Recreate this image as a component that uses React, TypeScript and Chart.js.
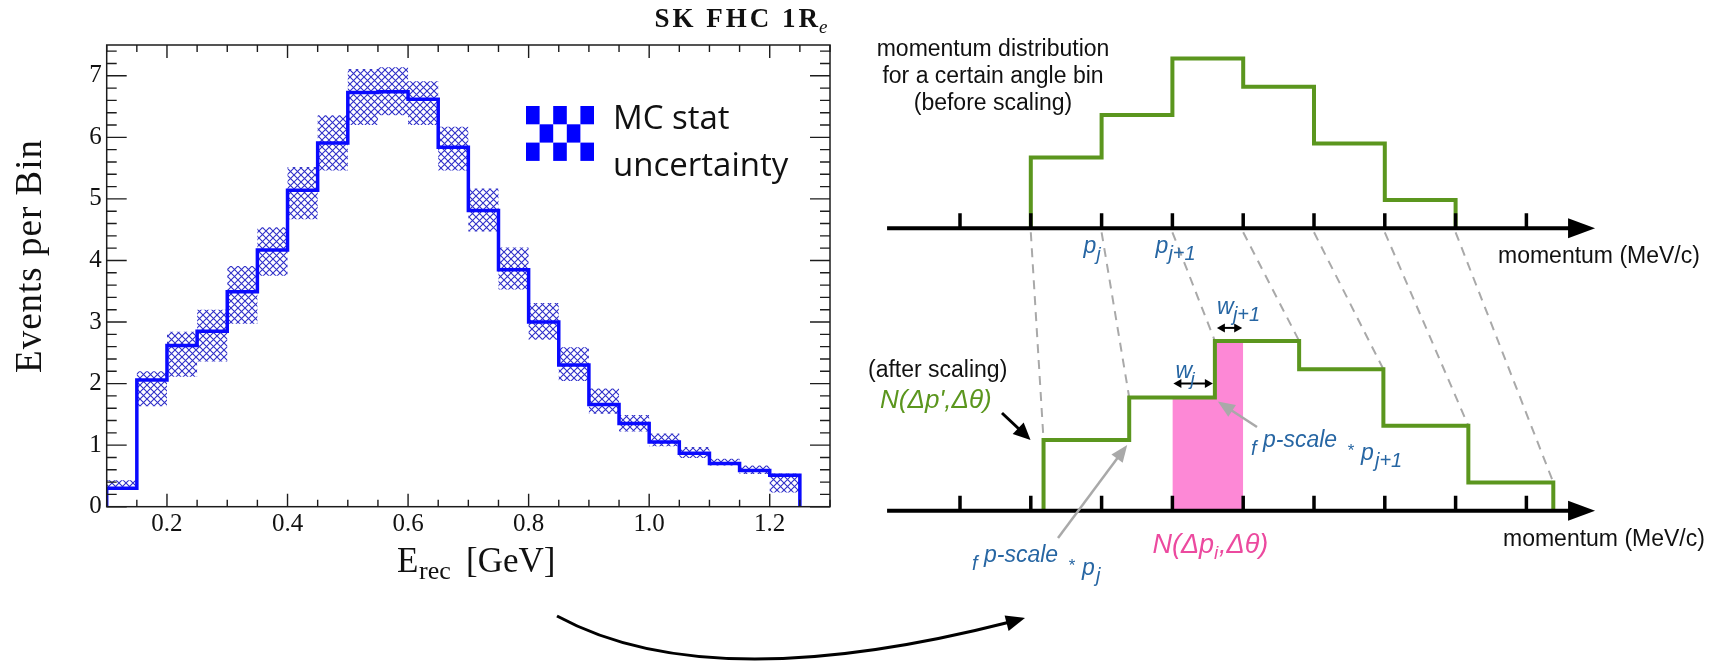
import React, { useEffect, useRef } from "react";
import { Chart, registerables } from "chart.js";
Chart.register(...registerables);

// ---------------- Left panel: SK FHC 1Re histogram ----------------
const binLowEdges = [0.10, 0.15, 0.20, 0.25, 0.30, 0.35, 0.40, 0.45, 0.50, 0.55, 0.60, 0.65, 0.70, 0.75, 0.80, 0.85, 0.90, 0.95, 1.00, 1.05, 1.10, 1.15, 1.20];
const lastBinHighEdge = 1.25;
const eventsPerBin = [0.30, 2.06, 2.62, 2.85, 3.49, 4.17, 5.14, 5.91, 6.73, 6.74, 6.62, 5.84, 4.81, 3.85, 3.00, 2.30, 1.66, 1.35, 1.05, 0.87, 0.70, 0.59, 0.51];
const mcStatUpper = [0.43, 2.20, 2.84, 3.20, 3.91, 4.54, 5.52, 6.36, 7.11, 7.14, 6.91, 6.17, 5.17, 4.21, 3.31, 2.59, 1.92, 1.49, 1.19, 0.97, 0.78, 0.67, 0.54];
const mcStatLower = [0.27, 1.63, 2.11, 2.36, 2.97, 3.75, 4.67, 5.46, 6.20, 6.36, 6.20, 5.46, 4.47, 3.53, 2.71, 2.04, 1.51, 1.22, 0.98, 0.79, 0.67, 0.53, 0.23];
const xTickValues = [0.2, 0.4, 0.6, 0.8, 1.0, 1.2];
const xTickLabels = ["0.2", "0.4", "0.6", "0.8", "1.0", "1.2"];
const yTickValues = [0, 1, 2, 3, 4, 5, 6, 7];
const yTickLabels = ["0", "1", "2", "3", "4", "5", "6", "7"];
const xMinorStep = 0.05;
const yMinorStep = 0.2;
const xAxisRange = [0.1, 1.3];
const yAxisRange = [0, 7.5];
const leftTitle = "SK FHC 1R";
const leftTitleSub = "e";
const yAxisTitle = "Events per Bin";
const legendLines = ["MC stat", "uncertainty"];

// ---------------- Right panel: momentum scaling diagram ----------------
const momentumTicks = [0, 1, 2, 3, 4, 5, 6, 7, 8];
const binEdgesBefore = [1, 2, 3, 4, 5, 6, 7];
const binEdgesAfter = [1.18, 2.39, 3.60, 4.79, 5.98, 7.18, 8.38];
const binContents = [2.5, 4.0, 6.0, 5.0, 3.0, 1.0];
const highlightRange = [3, 4];
const axisStart = -1.03;
const axisEnd = 8.97;

const SERIF = '"Liberation Serif", "Times New Roman", serif';
const SANS = '"Liberation Sans", Arial, Helvetica, sans-serif';
const GREEN = "#5b961e";
const BLUE_TXT = "#2766a3";
const PINK = "#fd88d6";
const PINK_TXT = "#ec4a9f";
const GRAY = "#a9a9a9";
const OX = 840; // page x of right canvas

function makeHatch(): CanvasPattern | string {
  const c = document.createElement("canvas");
  c.width = 7; c.height = 7;
  const g = c.getContext("2d");
  if (!g) return "#3535c8";
  g.strokeStyle = "#3030c8";
  g.lineWidth = 1.1;
  g.beginPath();
  g.moveTo(-1, -1); g.lineTo(8, 8);
  g.moveTo(-1, 8); g.lineTo(8, -1);
  g.stroke();
  const p = g.createPattern(c, "repeat");
  return p || "#3535c8";
}

function stepPoints(edges: number[], vals: number[], hi: number) {
  const pts = [{ x: edges[0], y: 0 }];
  edges.forEach((x, i) => pts.push({ x, y: vals[i] }));
  pts.push({ x: hi, y: vals[vals.length - 1] });
  pts.push({ x: hi, y: 0 });
  return pts;
}

function bandPoints(edges: number[], vals: number[], hi: number) {
  const pts = edges.map((x, i) => ({ x, y: vals[i] }));
  pts.push({ x: hi, y: vals[vals.length - 1] });
  return pts;
}

function txt(ctx: CanvasRenderingContext2D, s: string, x: number, y: number, font: string, color: string, align: CanvasTextAlign = "left") {
  ctx.font = font;
  ctx.fillStyle = color;
  ctx.textAlign = align;
  ctx.textBaseline = "alphabetic";
  ctx.fillText(s, x, y);
}

function head(ctx: CanvasRenderingContext2D, x1: number, y1: number, x2: number, y2: number, len: number, half: number, color: string) {
  const a = Math.atan2(y2 - y1, x2 - x1);
  const c = Math.cos(a), s = Math.sin(a);
  ctx.fillStyle = color;
  ctx.beginPath();
  ctx.moveTo(x2, y2);
  ctx.lineTo(x2 - len * c + half * s, y2 - len * s - half * c);
  ctx.lineTo(x2 - len * c - half * s, y2 - len * s + half * c);
  ctx.closePath();
  ctx.fill();
}

function arrow(ctx: CanvasRenderingContext2D, x1: number, y1: number, x2: number, y2: number, color: string, lw: number, len: number, half: number, both = false) {
  const a = Math.atan2(y2 - y1, x2 - x1);
  const c = Math.cos(a), s = Math.sin(a);
  ctx.strokeStyle = color;
  ctx.lineWidth = lw;
  ctx.setLineDash([]);
  ctx.beginPath();
  ctx.moveTo(both ? x1 + len * 0.7 * c : x1, both ? y1 + len * 0.7 * s : y1);
  ctx.lineTo(x2 - len * 0.7 * c, y2 - len * 0.7 * s);
  ctx.stroke();
  head(ctx, x1, y1, x2, y2, len, half, color);
  if (both) head(ctx, x2, y2, x1, y1, len, half, color);
}

const leftDecor = {
  id: "leftDecor",
  afterDatasetsDraw(chart: any) {
    const { ctx, chartArea: a, scales } = chart;
    const xs = scales.x, ys = scales.y;
    ctx.save();
    // frame
    ctx.strokeStyle = "#1c1c1c";
    ctx.lineWidth = 1.5;
    ctx.strokeRect(a.left, a.top, a.right - a.left, a.bottom - a.top);
    ctx.lineWidth = 1.4;
    ctx.beginPath();
    // x ticks (inside, bottom and top)
    for (let v = xAxisRange[0]; v <= xAxisRange[1] + 1e-9; v += xMinorStep) {
      const major = xTickValues.some((t) => Math.abs(t - v) < 1e-6);
      const L = major ? 13 : 7;
      const p = xs.getPixelForValue(v);
      ctx.moveTo(p, a.bottom); ctx.lineTo(p, a.bottom - L);
      ctx.moveTo(p, a.top); ctx.lineTo(p, a.top + L);
    }
    // y ticks (inside, left and right)
    for (let v = yAxisRange[0]; v <= yAxisRange[1] + 1e-9; v += yMinorStep) {
      const major = yTickValues.some((t) => Math.abs(t - v) < 1e-6);
      const L = major ? 20 : 10;
      const p = ys.getPixelForValue(v);
      ctx.moveTo(a.left, p); ctx.lineTo(a.left + L, p);
      ctx.moveTo(a.right, p); ctx.lineTo(a.right - L, p);
    }
    ctx.stroke();

    // title
    ctx.letterSpacing = "3px";
    txt(ctx, leftTitle, 821, 27, `bold 27px ${SERIF}`, "#111", "right");
    ctx.letterSpacing = "0px";
    txt(ctx, leftTitleSub, 819, 33, `italic 19px ${SERIF}`, "#111");

    // x axis title E_rec [GeV]
    txt(ctx, "E", 397, 572, `35px ${SERIF}`, "#111");
    txt(ctx, "rec", 419, 579, `26px ${SERIF}`, "#111");
    txt(ctx, "[GeV]", 466, 572, `35px ${SERIF}`, "#111");

    // y axis title
    ctx.save();
    ctx.translate(41, 256);
    ctx.rotate(-Math.PI / 2);
    ctx.letterSpacing = "1px";
    txt(ctx, yAxisTitle, 0, 0, `37px ${SERIF}`, "#111", "center");
    ctx.restore();

    // legend: checkerboard box + text
    const bx = 526, by = 106, cw = 13.6, chh = 18.3;
    ctx.fillStyle = "#0000ff";
    for (let r = 0; r < 3; r++) {
      for (let c = 0; c < 5; c++) {
        if ((r + c) % 2 === 0) ctx.fillRect(bx + c * cw, by + r * chh, cw, chh);
      }
    }
    txt(ctx, legendLines[0], 613, 129, `33px "Open Sans", ${SANS}`, "#111");
    txt(ctx, legendLines[1], 613, 176, `33px "Open Sans", ${SANS}`, "#111");
    ctx.restore();
  },
};

function stepValueAt(edges: number[], vals: number[], x: number) {
  let v = 0;
  for (let i = 0; i < vals.length; i++) if (x >= edges[i] - 1e-9) v = vals[i];
  return v;
}

const rightDecor = {
  id: "rightDecor",
  beforeDatasetsDraw(chart: any) {
    const { ctx, scales } = chart;
    const xs = scales.x, yt = scales.yTop, yb = scales.yBot;
    ctx.save();
    ctx.strokeStyle = GRAY;
    ctx.lineWidth = 2;
    ctx.setLineDash([9, 7]);
    binEdgesBefore.forEach((e, k) => {
      const left = k > 0 ? binContents[k - 1] : 0;
      const right = k < binContents.length ? binContents[k] : 0;
      const h = Math.max(left, right);
      ctx.beginPath();
      ctx.moveTo(xs.getPixelForValue(e), yt.getPixelForValue(0) + 4);
      ctx.lineTo(xs.getPixelForValue(binEdgesAfter[k]), yb.getPixelForValue(h));
      ctx.stroke();
    });
    ctx.restore();
  },
  afterDatasetsDraw(chart: any) {
    const { ctx, scales } = chart;
    const xs = scales.x, yt = scales.yTop, yb = scales.yBot;
    const px = (v: number) => xs.getPixelForValue(v);
    ctx.save();
    // axes
    [yt, yb].forEach((ys: any) => {
      const y0 = ys.getPixelForValue(0);
      ctx.strokeStyle = "#000";
      ctx.lineWidth = 4;
      ctx.setLineDash([]);
      ctx.beginPath();
      ctx.moveTo(px(axisStart), y0);
      ctx.lineTo(px(axisEnd) - 20, y0);
      ctx.stroke();
      head(ctx, px(axisStart), y0, px(axisEnd), y0, 27, 10, "#000");
      ctx.lineWidth = 3.5;
      ctx.beginPath();
      momentumTicks.forEach((t) => {
        ctx.moveTo(px(t), y0);
        ctx.lineTo(px(t), y0 - 15);
      });
      ctx.stroke();
    });
    const ytz = yt.getPixelForValue(0);
    const ybz = yb.getPixelForValue(0);

    // top texts
    txt(ctx, "momentum distribution", 993 - OX, 56, `23px ${SANS}`, "#111", "center");
    txt(ctx, "for a certain angle bin", 993 - OX, 83, `23px ${SANS}`, "#111", "center");
    txt(ctx, "(before scaling)", 993 - OX, 110, `23px ${SANS}`, "#111", "center");
    txt(ctx, "momentum (MeV/c)", 1498 - OX, ytz + 35, `23px ${SANS}`, "#111");
    txt(ctx, "momentum (MeV/c)", 1503 - OX, ybz + 35, `23px ${SANS}`, "#111");

    // p_j labels
    txt(ctx, "p", px(binEdgesBefore[1]) - 18, ytz + 25, `italic 23px ${SANS}`, BLUE_TXT);
    txt(ctx, "j", px(binEdgesBefore[1]) - 5, ytz + 32, `italic 19px ${SANS}`, BLUE_TXT);
    txt(ctx, "p", px(binEdgesBefore[2]) - 17, ytz + 25, `italic 23px ${SANS}`, BLUE_TXT);
    txt(ctx, "j+1", px(binEdgesBefore[2]) - 4, ytz + 32, `italic 20px ${SANS}`, BLUE_TXT);

    // w arrows
    const hj = stepValueAt(binEdgesAfter, binContents, highlightRange[0]);
    const hj1 = stepValueAt(binEdgesAfter, binContents, binEdgesAfter[2]);
    const yw = yb.getPixelForValue(hj) - 14;
    arrow(ctx, px(highlightRange[0]) + 1, yw, px(binEdgesAfter[2]) - 2, yw, "#000", 2, 8, 4.5, true);
    txt(ctx, "w", px(highlightRange[0]) + 3, yw - 6, `italic 23px ${SANS}`, BLUE_TXT);
    txt(ctx, "j", px(highlightRange[0]) + 18, yw + 1, `italic 19px ${SANS}`, BLUE_TXT);
    const yw1 = yb.getPixelForValue(hj1) - 13;
    arrow(ctx, px(binEdgesAfter[2]) + 2, yw1, px(highlightRange[1]) - 1, yw1, "#000", 2, 8, 4.5, true);
    txt(ctx, "w", px(binEdgesAfter[2]) + 2, yw1 - 14, `italic 23px ${SANS}`, BLUE_TXT);
    txt(ctx, "j+1", px(binEdgesAfter[2]) + 18, yw1 - 7, `italic 20px ${SANS}`, BLUE_TXT);

    // after scaling labels
    txt(ctx, "(after scaling)", 868 - OX, 377, `23px ${SANS}`, "#111");
    txt(ctx, "N(Δp',Δθ)", 880 - OX, 408, `italic 26px ${SANS}`, GREEN);
    const tip0x = px(binEdgesAfter[0]) - 13, tip0y = yb.getPixelForValue(binContents[0]);
    arrow(ctx, 1002 - OX, 413, tip0x, tip0y, "#000", 3, 17, 8);

    // gray arrows
    arrow(ctx, 1058 - OX, 538, px(binEdgesAfter[1]) - 2, yb.getPixelForValue(binContents[0]) + 5, GRAY, 2.5, 17, 7);
    arrow(ctx, 1257 - OX, 427, px(binEdgesAfter[2]) + 3, yb.getPixelForValue(binContents[1]) + 4, GRAY, 2.5, 17, 7);

    // f^{p-scale} * p_j
    const fLabel = (x0: number, b: number, sub: string) => {
      txt(ctx, "f", x0 - OX, b + 8, `italic 20px ${SANS}`, BLUE_TXT);
      txt(ctx, "p-scale", x0 + 12 - OX, b, `italic 23px ${SANS}`, BLUE_TXT);
      txt(ctx, "*", x0 + 96 - OX, b + 9, `italic 17px ${SANS}`, BLUE_TXT);
      txt(ctx, "p", x0 + 110 - OX, b + 13, `italic 23px ${SANS}`, BLUE_TXT);
      txt(ctx, sub, x0 + 124 - OX, b + 20, `italic 20px ${SANS}`, BLUE_TXT);
    };
    fLabel(972, 562, "j");
    fLabel(1251, 447, "j+1");

    // pink label N(Δp_i,Δθ)
    const pinkX = px(highlightRange[0]) - 20;
    ctx.font = `italic 27px ${SANS}`;
    txt(ctx, "N(Δp", pinkX, ybz + 42, `italic 27px ${SANS}`, PINK_TXT);
    const w1 = ctx.measureText("N(Δp").width;
    txt(ctx, "i", pinkX + w1, ybz + 48, `italic 19px ${SANS}`, PINK_TXT);
    txt(ctx, ",Δθ)", pinkX + w1 + 5, ybz + 42, `italic 27px ${SANS}`, PINK_TXT);
    ctx.restore();
  },
};

export default function App() {
  const leftRef = useRef<HTMLCanvasElement>(null);
  const rightRef = useRef<HTMLCanvasElement>(null);

  useEffect(() => {
    const hatch = makeHatch();
    const left = new Chart(leftRef.current as HTMLCanvasElement, {
      type: "line",
      data: {
        datasets: [
          {
            data: bandPoints(binLowEdges, mcStatUpper, lastBinHighEdge),
            stepped: true,
            borderWidth: 0,
            borderColor: "rgba(0,0,0,0)",
            pointRadius: 0,
            fill: "+1",
            backgroundColor: hatch as any,
            order: 2,
          },
          {
            data: bandPoints(binLowEdges, mcStatLower, lastBinHighEdge),
            stepped: true,
            borderWidth: 0,
            borderColor: "rgba(0,0,0,0)",
            pointRadius: 0,
            fill: false,
            order: 3,
          },
          {
            data: stepPoints(binLowEdges, eventsPerBin, lastBinHighEdge),
            stepped: true,
            borderColor: "#0a0aff",
            borderWidth: 3.5,
            pointRadius: 0,
            fill: false,
            order: 0,
          },
        ],
      },
      options: {
        animation: false,
        responsive: false,
        layout: { padding: { left: 0, right: 10, top: 45, bottom: 53.3 } },
        plugins: { legend: { display: false }, tooltip: { enabled: false } },
        scales: {
          x: {
            type: "linear",
            min: xAxisRange[0],
            max: xAxisRange[1],
            grid: { display: false, drawTicks: false },
            border: { display: false },
            afterBuildTicks: (s: any) => { s.ticks = xTickValues.map((v) => ({ value: v })); },
            afterFit: (s: any) => { s.height = 40; },
            ticks: {
              autoSkip: false,
              maxRotation: 0,
              padding: 3,
              color: "#111",
              font: { family: SERIF, size: 25 },
              callback: (v: any) => { const i = xTickValues.findIndex((t) => Math.abs(t - v) < 1e-6); return i >= 0 ? xTickLabels[i] : ""; },
            },
          },
          y: {
            type: "linear",
            min: yAxisRange[0],
            max: yAxisRange[1],
            grid: { display: false, drawTicks: false },
            border: { display: false },
            afterBuildTicks: (s: any) => { s.ticks = yTickValues.map((v) => ({ value: v })); },
            afterFit: (s: any) => { s.width = 106.7; },
            ticks: {
              padding: 5,
              color: "#111",
              font: { family: SERIF, size: 25 },
              callback: (v: any) => { const i = yTickValues.indexOf(v); return i >= 0 ? yTickLabels[i] : ""; },
            },
          },
        },
      },
      plugins: [leftDecor],
    } as any);

    const pxPerUnit = 28.3;
    const H = 661;
    const topAxisY = 228.3, botAxisY = 510.7;
    const pinkPts: { x: number; y: number }[] = [{ x: highlightRange[0], y: stepValueAt(binEdgesAfter, binContents, highlightRange[0]) }];
    binEdgesAfter.forEach((e) => {
      if (e > highlightRange[0] && e < highlightRange[1]) pinkPts.push({ x: e, y: stepValueAt(binEdgesAfter, binContents, e) });
    });
    pinkPts.push({ x: highlightRange[1], y: pinkPts[pinkPts.length - 1].y });

    const right = new Chart(rightRef.current as HTMLCanvasElement, {
      type: "line",
      data: {
        datasets: [
          {
            data: pinkPts,
            yAxisID: "yBot",
            stepped: true,
            borderWidth: 0,
            borderColor: "rgba(0,0,0,0)",
            pointRadius: 0,
            fill: "origin",
            backgroundColor: PINK,
            order: 3,
          },
          {
            data: stepPoints(binEdgesBefore.slice(0, -1), binContents, binEdgesBefore[binEdgesBefore.length - 1]),
            yAxisID: "yTop",
            stepped: true,
            borderColor: GREEN,
            borderWidth: 4,
            pointRadius: 0,
            fill: false,
            order: 0,
          },
          {
            data: stepPoints(binEdgesAfter.slice(0, -1), binContents, binEdgesAfter[binEdgesAfter.length - 1]),
            yAxisID: "yBot",
            stepped: true,
            borderColor: GREEN,
            borderWidth: 4,
            pointRadius: 0,
            fill: false,
            order: 0,
          },
        ],
      },
      options: {
        animation: false,
        responsive: false,
        layout: { padding: 0 },
        plugins: { legend: { display: false }, tooltip: { enabled: false } },
        scales: {
          x: { type: "linear", display: false, min: (OX - 960) / 70.8, max: (OX + 871 - 960) / 70.8 },
          yTop: { type: "linear", display: false, min: -(H - topAxisY) / pxPerUnit, max: topAxisY / pxPerUnit },
          yBot: { type: "linear", display: false, min: -(H - botAxisY) / pxPerUnit, max: botAxisY / pxPerUnit },
        },
      },
      plugins: [rightDecor],
    } as any);

    return () => {
      left.destroy();
      right.destroy();
    };
  }, []);

  return (
    <div style={{ position: "fixed", left: 0, top: 0, width: 1711, height: 661, background: "#fff", overflow: "hidden" }}>
      <canvas ref={leftRef} width={840} height={600} style={{ position: "absolute", left: 0, top: 0, width: 840, height: 600 }} />
      <canvas ref={rightRef} width={871} height={661} style={{ position: "absolute", left: OX, top: 0, width: 871, height: 661 }} />
      <svg width={1711} height={661} style={{ position: "absolute", left: 0, top: 0, pointerEvents: "none" }}>
        <path d="M 557 616 Q 709 699 1010 622" fill="none" stroke="#000" strokeWidth={3} />
        <polygon points="1025,618 1004.6,615.4 1008.6,630.9" fill="#000" />
      </svg>
    </div>
  );
}
